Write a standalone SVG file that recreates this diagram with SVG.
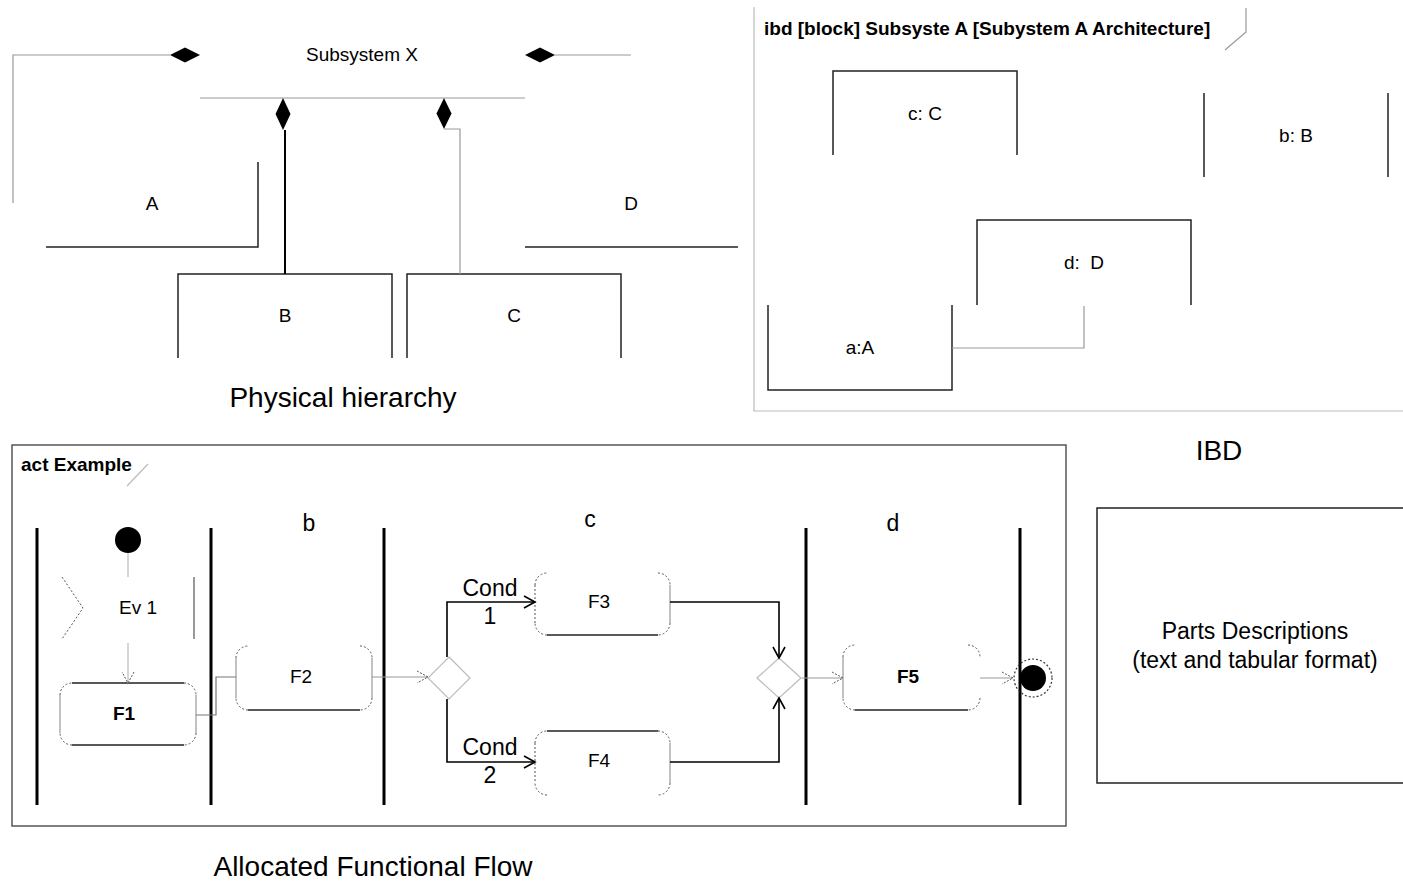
<svg xmlns="http://www.w3.org/2000/svg" width="1403" height="882" viewBox="0 0 1403 882">
<style>
text{font-family:"Liberation Sans",Arial,sans-serif;fill:#000}
.c{text-anchor:middle}
.b{font-weight:bold}
.s19{font-size:19px}
.s28{font-size:28px}
.s23{font-size:23px}
.dk{fill:none;stroke:#222;stroke-width:1.5}
.gr{fill:none;stroke:#999;stroke-width:1.2}
.lt{fill:none;stroke:#bbb;stroke-width:1.2}
.dot{fill:none;stroke:#555;stroke-width:1;stroke-dasharray:2,2}
.lane{stroke:#000;stroke-width:3}
.flow{fill:none;stroke:#000;stroke-width:1.6}
.dia{fill:#000}
</style>
<defs>
<marker id="ah" markerWidth="14" markerHeight="14" refX="12" refY="7" orient="auto" markerUnits="userSpaceOnUse"><path d="M1,1 L12,7 L1,13" fill="none" stroke="#000" stroke-width="1.6"/></marker>
<marker id="ahd" markerWidth="14" markerHeight="14" refX="12" refY="7" orient="auto" markerUnits="userSpaceOnUse"><path d="M1,1 L12,7 L1,13" fill="none" stroke="#555" stroke-width="1" stroke-dasharray="2,1.5"/></marker>
</defs>

<!-- Physical hierarchy -->
<g id="subsystemX">
<text class="c s19" x="362" y="61">Subsystem X</text>
<line class="gr" x1="200" y1="98" x2="525" y2="98"/>
</g>
<g id="partA">
<path class="dk" d="M258,162 V247 H46"/>
<text class="c s19" x="152" y="210">A</text>
</g>
<g id="partD">
<text class="c s19" x="631" y="210">D</text>
<line class="dk" x1="525" y1="247" x2="738" y2="247"/>
</g>
<g id="partB">
<path class="dk" d="M178,358 V274 H392 V358"/>
<text class="c s19" x="285" y="322">B</text>
</g>
<g id="partC">
<path class="dk" d="M407,358 V274 H621 V358"/>
<text class="c s19" x="514" y="322">C</text>
</g>
<g id="captionPhysical"><text class="c s28" x="343" y="407">Physical hierarchy</text></g>

<g id="connectors-physical">
<path class="gr" d="M13,203 V55 H170"/>
<path class="dia" d="M170,55 L185,47.5 L200,55 L185,62.5 Z"/>
<path class="dia" d="M525,55 L540,47.5 L555,55 L540,62.5 Z"/>
<line class="gr" x1="555" y1="55" x2="631" y2="55"/>
<path class="dia" d="M283,98 L290.5,114 L283,130 L275.5,114 Z"/>
<line x1="285" y1="130" x2="285" y2="274" stroke="#000" stroke-width="2"/>
<path class="dia" d="M444,98 L451.5,113.5 L444,129 L436.5,113.5 Z"/>
<path class="gr" d="M444,129 H460 V274"/>
</g>

<!-- IBD -->
<g id="ibdFrame">
<path class="lt" d="M754,7 V411 H1403"/>
<path class="gr" d="M1246,8 V32 L1225,50"/>
<text class="b s19" x="764" y="35">ibd [block] Subsyste A [Subystem A Architecture]</text>
</g>
<g id="ibd-c">
<path class="dk" d="M833,155 V71 H1017 V155"/>
<text class="c s19" x="925" y="120">c: C</text>
</g>
<g id="ibd-b">
<path class="dk" d="M1204,93 V177 M1388,93 V177"/>
<text class="c s19" x="1296" y="142">b: B</text>
</g>
<g id="ibd-d">
<path class="dk" d="M977,305 V220 H1191 V305"/>
<text class="c s19" x="1084" y="269" xml:space="preserve">d:  D</text>
</g>
<g id="ibd-a">
<path class="dk" d="M768,305 V390 H952 V305"/>
<text class="c s19" x="860" y="354">a:A</text>
</g>
<g id="connectors-ibd">
<path class="gr" d="M952,348 H1084 V306"/>
</g>
<g id="captionIBD"><text class="c s28" x="1219" y="460">IBD</text></g>

<!-- Activity -->
<g id="actFrame">
<rect x="12" y="445" width="1054" height="381" fill="none" stroke="#555" stroke-width="1.5"/>
<text class="b s19" x="21" y="471">act Example</text>
<line class="lt" x1="148" y1="464" x2="127" y2="486"/>
</g>
<g id="lanes">
<line class="lane" x1="37" y1="528" x2="37" y2="805"/>
<line class="lane" x1="211" y1="528" x2="211" y2="805"/>
<line class="lane" x1="384" y1="528" x2="384" y2="805"/>
<line class="lane" x1="806" y1="528" x2="806" y2="805"/>
<line class="lane" x1="1020" y1="528" x2="1020" y2="805"/>
<text class="c s23" x="309" y="531">b</text>
<text class="c s23" x="590" y="527">c</text>
<text class="c s23" x="893" y="531">d</text>
</g>
<g id="initial"><circle cx="128" cy="540" r="13" fill="#000"/></g>
<g id="ev1">
<path class="dot" d="M62,577 L83,608 L62,639"/>
<line x1="194" y1="577" x2="194" y2="639" stroke="#555" stroke-width="1.2"/>
<text class="c s19" x="138" y="614">Ev 1</text>
</g>
<g id="F1">
<path class="dot" d="M60,695 A12,12 0 0 1 72,683 M184,683 A12,12 0 0 1 196,695 M196,733 A12,12 0 0 1 184,745 M72,745 A12,12 0 0 1 60,733"/>
<path class="dk" d="M72,683 H184 M72,745 H184"/>
<path class="gr" d="M60,695 V733 M196,695 V733"/>
<text class="c b s19" x="124" y="720">F1</text>
</g>
<g id="F2">
<path class="dot" d="M236,658 A12,12 0 0 1 248,646 M360,646 A12,12 0 0 1 372,658 M372,698 A12,12 0 0 1 360,710 M248,710 A12,12 0 0 1 236,698"/>
<path class="dk" d="M248,710 H360"/>
<path class="gr" d="M236,658 V698 M372,658 V698"/>
<text class="c s19" x="301" y="683">F2</text>
</g>
<g id="decision"><path class="lt" d="M449,657 L470,678 L449,699 L428,678 Z"/></g>
<g id="F3">
<path class="dot" d="M535,585 A12,12 0 0 1 547,573 M658,573 A12,12 0 0 1 670,585 M670,623 A12,12 0 0 1 658,635 M547,635 A12,12 0 0 1 535,623 M535,585 V623"/>
<path class="dk" d="M547,635 H658"/>
<path class="gr" d="M670,585 V623"/>
<text class="c s19" x="599" y="608">F3</text>
</g>
<g id="F4">
<path class="dot" d="M535,743 A12,12 0 0 1 547,731 M658,731 A12,12 0 0 1 670,743 M670,783 A12,12 0 0 1 658,795 M547,795 A12,12 0 0 1 535,783 M535,743 V783"/>
<path class="dk" d="M547,731 H658"/>
<path class="gr" d="M670,743 V783"/>
<text class="c s19" x="599" y="767">F4</text>
</g>
<g id="merge"><path class="lt" d="M779,658 L801,678 L779,698 L757,678 Z"/></g>
<g id="F5">
<path class="dot" d="M843,657 A12,12 0 0 1 855,645 M968,645 A12,12 0 0 1 980,657 M980,698 A12,12 0 0 1 968,710 M855,710 A12,12 0 0 1 843,698"/>
<path class="dk" d="M855,710 H968"/>
<path class="gr" d="M843,657 V698"/>
<text class="c b s19" x="908" y="683">F5</text>
</g>
<g id="final">
<circle cx="1033" cy="678" r="19" fill="none" stroke="#333" stroke-width="1.2" stroke-dasharray="2,2"/>
<circle cx="1033" cy="678" r="13" fill="#000"/>
</g>

<g id="connectors-activity">
<line class="lt" x1="128" y1="553" x2="128" y2="577"/>
<line class="lt" x1="128" y1="643" x2="128" y2="683" marker-end="url(#ahd)"/>
<path fill="none" stroke="#777" stroke-width="1.2" d="M196,715 H216 V677 H236"/>
<line class="gr" x1="372" y1="677" x2="428" y2="677" marker-end="url(#ahd)"/>
<path class="flow" d="M447,657 V602 H535" marker-end="url(#ah)"/>
<path class="flow" d="M447,699 V762 H535" marker-end="url(#ah)"/>
<path class="flow" d="M670,602 H779 V658" marker-end="url(#ah)"/>
<path class="flow" d="M670,762 H779 V698" marker-end="url(#ah)"/>
<line class="gr" x1="802" y1="678" x2="843" y2="678" marker-end="url(#ahd)"/>
<line class="gr" x1="980" y1="678" x2="1013" y2="678" marker-end="url(#ahd)"/>
<text class="c s23" x="490" y="596">Cond</text>
<text class="c s23" x="490" y="624">1</text>
<text class="c s23" x="490" y="755">Cond</text>
<text class="c s23" x="490" y="783">2</text>
</g>
<g id="captionFlow"><text class="c s28" x="373" y="876">Allocated Functional Flow</text></g>

<g id="partsDescriptions">
<path class="dk" d="M1403,508 H1097 V783 H1403"/>
<text class="c" style="font-size:23px" x="1255" y="639">Parts Descriptions</text>
<text class="c" style="font-size:23px" x="1255" y="668">(text and tabular format)</text>
</g>
</svg>
